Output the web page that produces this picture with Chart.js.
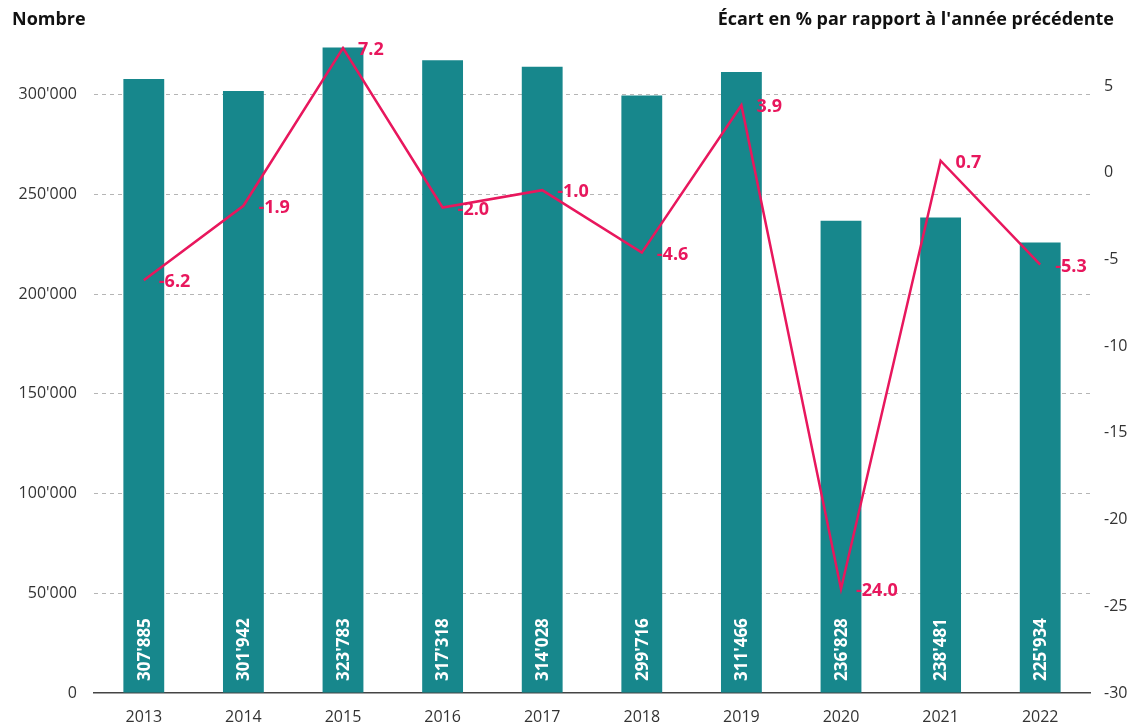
<!DOCTYPE html>
<html>
<head>
<meta charset="utf-8">
<script src="https://cdn.jsdelivr.net/npm/chart.js@4.4.0/dist/chart.umd.min.js"></script>
<style>
  body { margin: 0; background: #fff; }
  #wrap { width: 1148px; height: 727px; }
</style>
</head>
<body>
<div id="wrap"><canvas id="chart" width="1148" height="727"></canvas></div>
<script>
// Data
const years = ['2013', '2014', '2015', '2016', '2017', '2018', '2019', '2020', '2021', '2022'];
const counts = [307885, 301942, 323783, 317318, 314028, 299716, 311466, 236828, 238481, 225934];
const changes = [-6.2, -1.9, 7.2, -2.0, -1.0, -4.6, 3.9, -24.0, 0.7, -5.3];
const leftTicks = [0, 50000, 100000, 150000, 200000, 250000, 300000];
const rightTicks = [-30, -25, -20, -15, -10, -5, 0, 5];

const TEAL = '#17878c';
const PINK = '#e8175d';
const FONT = '"Open Sans", Lato, sans-serif';

function fmt(n) {
    return String(n).replace(/\B(?=(\d{3})+(?!\d))/g, "'");
}

// Titles + value labels drawn by hand
const labelPlugin = {
    id: 'labels',
    afterDatasetsDraw(chart) {
        const c = chart.ctx;
        c.save();
        // bar values, rotated inside bars
        const bars = chart.getDatasetMeta(0).data;
        c.fillStyle = '#fff';
        c.font = 'bold 17px ' + FONT;
        c.textAlign = 'left';
        c.textBaseline = 'middle';
        bars.forEach((b, i) => {
            c.save();
            c.translate(b.x + 1, chart.chartArea.bottom - 12);
            c.rotate(-Math.PI / 2);
            c.fillText(fmt(counts[i]), 0, 0);
            c.restore();
        });
        // line values
        const pts = chart.getDatasetMeta(1).data;
        c.font = 'bold 18px ' + FONT;
        c.fillStyle = PINK;
        pts.forEach((p, i) => {
            c.fillText(changes[i].toFixed(1), p.x + 15, p.y + 2);
        });
        // titles
        c.fillStyle = '#111';
        c.font = 'bold 18px ' + FONT;
        c.textAlign = 'left';
        c.fillText('Nombre', 12, 20);
        c.textAlign = 'right';
        c.fillText("Écart en % par rapport à l'année précédente", 1114, 20);
        c.restore();
    }
};

new Chart(document.getElementById('chart'), {
    data: {
        labels: years,
        datasets: [
            {
                type: 'bar',
                data: counts,
                backgroundColor: TEAL,
                barPercentage: 0.41,
                categoryPercentage: 1,
                yAxisID: 'y',
                order: 2
            },
            {
                type: 'line',
                data: changes,
                borderColor: PINK,
                borderWidth: 2.5,
                pointRadius: 0,
                tension: 0,
                yAxisID: 'y2',
                order: 1
            }
        ]
    },
    options: {
        responsive: false,
        animation: false,
        layout: { padding: { top: 35, left: 0, right: 0, bottom: 0 } },
        plugins: { legend: { display: false }, tooltip: { enabled: false } },
        scales: {
            x: {
                afterFit: (s) => { s.height = 34; },
                grid: { display: false, drawTicks: false },
                border: { display: true, color: '#444', width: 1.5 },
                ticks: { color: '#333', font: { family: FONT, size: 16 }, padding: 15 }
            },
            y: {
                position: 'left',
                min: 0,
                max: 330000,
                afterBuildTicks: (s) => { s.ticks = leftTicks.map(v => ({ value: v })); },
                afterFit: (s) => { s.width = 94; },
                grid: {
                    color: (ctx) => ctx.tick && ctx.tick.value === 0 ? 'rgba(0,0,0,0)' : '#b5b5b5',
                    drawTicks: false
                },
                border: { display: false, dash: [4, 4] },
                ticks: {
                    color: '#333',
                    font: { family: FONT, size: 16 },
                    padding: 17,
                    callback: (v) => fmt(v)
                }
            },
            y2: {
                position: 'right',
                min: -30,
                max: 7.95,
                afterBuildTicks: (s) => { s.ticks = rightTicks.map(v => ({ value: v })); },
                afterFit: (s) => { s.width = 58; },
                grid: { display: false, drawTicks: false },
                border: { display: false },
                ticks: {
                    color: '#333',
                    font: { family: FONT, size: 16 },
                    padding: 14,
                    callback: (v) => String(v)
                }
            }
        }
    },
    plugins: [labelPlugin]
});
</script>
</body>
</html>
